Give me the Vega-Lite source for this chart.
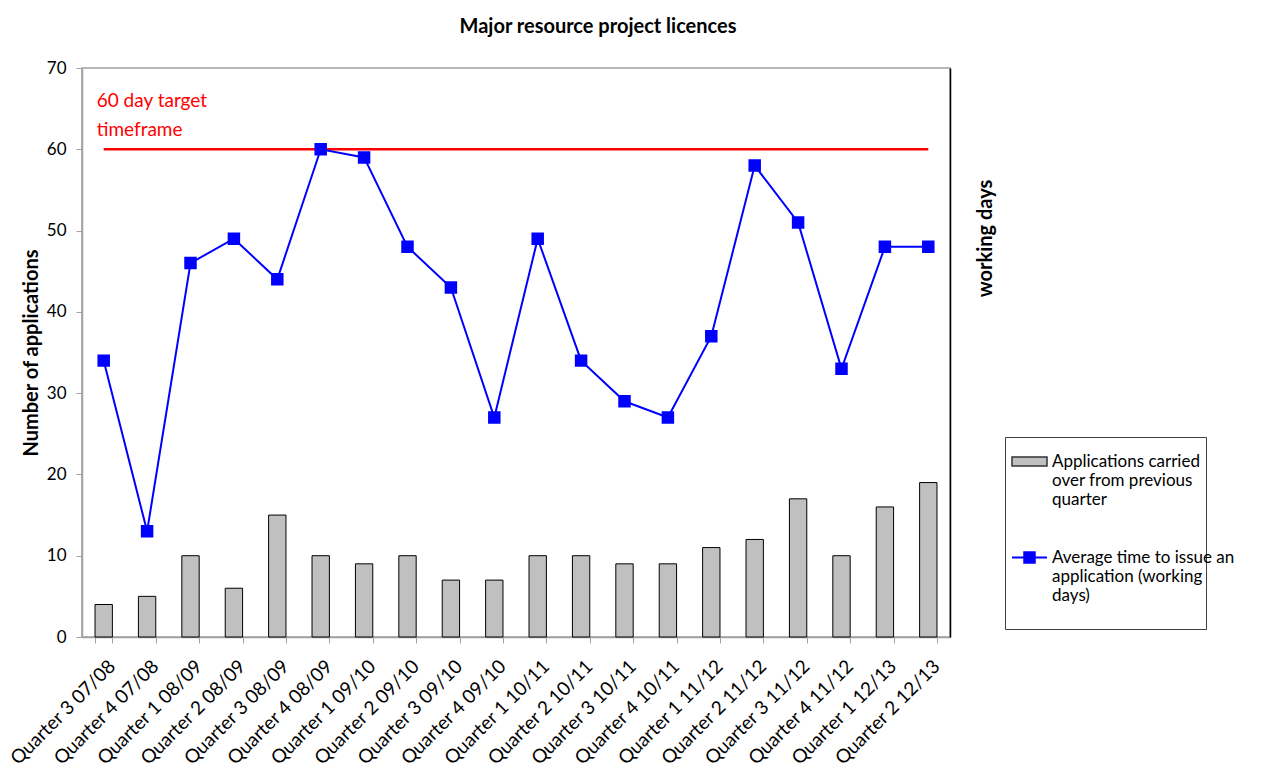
{
  "$schema": "https://vega.github.io/schema/vega-lite/v6.json",
  "width": 868,
  "height": 569,
  "autosize": {"type": "none"},
  "padding": {"left": 82, "top": 68, "right": 319, "bottom": 136},
  "background": "white",
  "config": {
    "font": "Lato",
    "view": {"stroke": "#a0a0a0", "strokeWidth": 1.5}
  },
  "title": {
    "text": "Major resource project licences",
    "fontSize": 20,
    "fontWeight": "bold",
    "color": "black",
    "anchor": "middle",
    "dx": 82,
    "offset": 22
  },
  "data": {
    "values": [
      {"quarter": "Quarter 3 07/08", "carried": 4, "avg": 34},
      {"quarter": "Quarter 4 07/08", "carried": 5, "avg": 13},
      {"quarter": "Quarter 1 08/09", "carried": 10, "avg": 46},
      {"quarter": "Quarter 2 08/09", "carried": 6, "avg": 49},
      {"quarter": "Quarter 3 08/09", "carried": 15, "avg": 44},
      {"quarter": "Quarter 4 08/09", "carried": 10, "avg": 60},
      {"quarter": "Quarter 1 09/10", "carried": 9, "avg": 59},
      {"quarter": "Quarter 2 09/10", "carried": 10, "avg": 48},
      {"quarter": "Quarter 3 09/10", "carried": 7, "avg": 43},
      {"quarter": "Quarter 4 09/10", "carried": 7, "avg": 27},
      {"quarter": "Quarter 1 10/11", "carried": 10, "avg": 49},
      {"quarter": "Quarter 2 10/11", "carried": 10, "avg": 34},
      {"quarter": "Quarter 3 10/11", "carried": 9, "avg": 29},
      {"quarter": "Quarter 4 10/11", "carried": 9, "avg": 27},
      {"quarter": "Quarter 1 11/12", "carried": 11, "avg": 37},
      {"quarter": "Quarter 2 11/12", "carried": 12, "avg": 58},
      {"quarter": "Quarter 3 11/12", "carried": 17, "avg": 51},
      {"quarter": "Quarter 4 11/12", "carried": 10, "avg": 33},
      {"quarter": "Quarter 1 12/13", "carried": 16, "avg": 48},
      {"quarter": "Quarter 2 12/13", "carried": 19, "avg": 48}
    ]
  },
  "layer": [
    {
      "mark": {"type": "bar", "stroke": "black", "strokeWidth": 1},
      "encoding": {
        "x": {
          "field": "quarter",
          "type": "nominal",
          "sort": null,
          "scale": {"paddingInner": 0.6, "paddingOuter": 0.3},
          "axis": {
            "title": null,
            "labelAngle": -45,
            "labelAlign": "right",
            "labelBaseline": "middle",
            "labelFontSize": 19,
            "labelColor": "black",
            "labelPadding": 20,
            "labelOffset": 8,
            "tickBand": "extent",
            "tickSize": 6,
            "tickColor": "#a0a0a0",
            "domainColor": "#a0a0a0",
            "domainWidth": 1.5,
            "labelLimit": 300
          }
        },
        "y": {
          "field": "carried",
          "type": "quantitative",
          "scale": {"domain": [0, 70]},
          "axis": {
            "title": "Number of applications",
            "titleFontSize": 20,
            "titleFontWeight": "bold",
            "titleColor": "black",
            "titlePadding": 5,
            "values": [0, 10, 20, 30, 40, 50, 60, 70],
            "labelFontSize": 17,
            "labelColor": "black",
            "labelPadding": 10,
            "tickSize": 6,
            "tickColor": "#a0a0a0",
            "domainColor": "#a0a0a0",
            "domainWidth": 1.5,
            "grid": false
          }
        },
        "fill": {
          "datum": "Applications carried over from previous quarter",
          "scale": {"range": ["#C0C0C0"]},
          "legend": {
            "title": "Average time to issue an a",
            "titleOrient": "bottom",
            "titleColor": "white",
            "titleFontSize": 20,
            "titleFontWeight": "normal",
            "titlePadding": 0,
            "orient": "none",
            "legendX": 923,
            "legendY": 369,
            "strokeColor": "#404040",
            "padding": 6,
            "labelFontSize": 17,
            "labelColor": "black",
            "labelLimit": 400,
            "labelOffset": 4,
            "labelBaseline": "middle",
            "symbolSize": 1225,
            "symbolType": "M-1,-0.26L1,-0.26L1,0.26L-1,0.26Z",
            "symbolStrokeColor": "#333333",
            "symbolStrokeWidth": 1.5,
            "labelExpr": "['Applications carried', 'over from previous', 'quarter', '', '', '', '', '']"
          }
        }
      }
    },
    {
      "mark": {"type": "line", "color": "#FF0000", "strokeWidth": 2.5},
      "encoding": {
        "x": {"field": "quarter", "type": "nominal", "sort": null},
        "y": {"datum": 60, "type": "quantitative", "axis": null}
      }
    },
    {
      "data": {"values": [{"label": "60 day target\ntimeframe"}]},
      "mark": {
        "type": "text",
        "color": "#FF0000",
        "fontSize": 19,
        "align": "left",
        "baseline": "middle",
        "dx": -7,
        "lineBreak": "\n",
        "lineHeight": 29
      },
      "encoding": {
        "x": {"datum": "Quarter 3 07/08", "type": "nominal"},
        "y": {"datum": 65.9, "type": "quantitative", "axis": null},
        "text": {"field": "label"}
      }
    },
    {
      "mark": {
        "type": "line",
        "strokeWidth": 2,
        "point": {"shape": "square", "size": 110, "filled": true, "color": "#0000FF"}
      },
      "encoding": {
        "x": {"field": "quarter", "type": "nominal", "sort": null},
        "y": {
          "field": "avg",
          "type": "quantitative",
          "scale": {"domain": [0, 70]},
          "axis": {
            "orient": "right",
            "title": "working days",
            "titleFontSize": 20,
            "titleFontWeight": "bold",
            "titleColor": "black",
            "titleAngle": -90,
            "titleY": 170,
            "titleX": 35,
            "titleBaseline": "middle",
            "labels": false,
            "ticks": false,
            "grid": false,
            "domainColor": "black",
            "domainWidth": 1.5
          }
        },
        "stroke": {
          "datum": "Average time to issue an application (working days)",
          "scale": {"range": ["#0000FF"]},
          "legend": {
            "title": null,
            "orient": "none",
            "legendX": 923,
            "legendY": 465,
            "padding": 6,
            "labelFontSize": 17,
            "labelColor": "black",
            "labelLimit": 400,
            "labelOffset": 4,
            "labelBaseline": "middle",
            "symbolSize": 1225,
            "symbolType": "M-1,0L1,0M-0.3,-0.3L0.3,-0.3L0.3,0.3L-0.3,0.3Z",
            "symbolStrokeColor": "#0000FF",
            "symbolFillColor": "#0000FF",
            "symbolStrokeWidth": 2,
            "labelExpr": "['Average time to issue an', 'application (working', 'days)']"
          }
        }
      }
    }
  ],
  "resolve": {"scale": {"y": "shared"}, "axis": {"y": "independent"}}
}
